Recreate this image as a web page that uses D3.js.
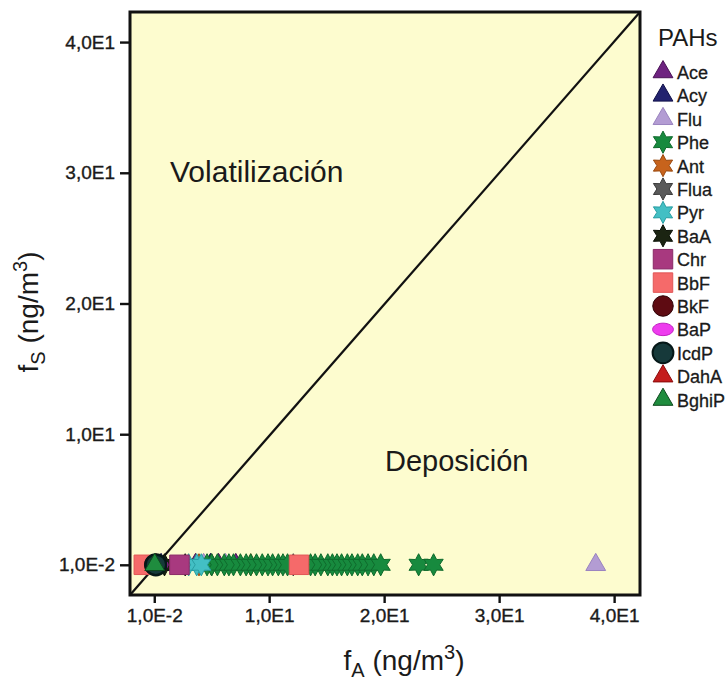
<!DOCTYPE html>
<html>
<head>
<meta charset="utf-8">
<script src="https://cdn.jsdelivr.net/npm/d3@7"></script>
<style>
  body { margin: 0; background: #fff; }
  text { font-family: "Liberation Sans", Arial, sans-serif; fill: #1a1a1a; }
</style>
</head>
<body>
<svg id="chart" width="728" height="689"></svg>
<script>
// PAH species (legend order) and their fA values (all fS = 1,0E-2)
const species = ["Ace", "Acy", "Flu", "Phe", "Ant", "Flua", "Pyr", "BaA", "Chr", "BbF", "BkF", "BaP", "IcdP", "DahA", "BghiP"];
const fsValue = 0.01;
const aceX = [3.6, 5.6, 7.1];
const acyX = [0.6, 4.9];
const fluX = [4.3, 6.2, 38.4];
const pheX = [4.6, 5.0, 5.5, 6.1, 6.5, 6.9, 7.5, 8.0, 8.4, 8.9, 9.4, 9.9, 10.3, 10.8, 11.2, 11.6,
  13.6, 14.0, 14.5, 15.1, 15.5, 15.9, 16.3, 16.8, 17.2, 17.7, 18.1, 18.6, 19.1, 19.7, 23.0, 24.3];
const antX = [3.9, 8.4];
const fluaX = [5.0, 12.1];
const pyrX = [3.0, 3.7, 4.1];
const baaX = [0.9, 2.7];
const chrX = [2.2];
const bbfX = [-0.9, 12.6];
const bkfX = [0.05];
const bapX = [0.3];
const icdpX = [0.15];
const dahaX = [0.15];
const bghipX = [0.05];
const xTicks = [0.01, 10, 20, 30, 40];
const xTickLabels = ["1,0E-2", "1,0E1", "2,0E1", "3,0E1", "4,0E1"];
const yTicks = [0.01, 10, 20, 30, 40];
const yTickLabels = ["1,0E-2", "1,0E1", "2,0E1", "3,0E1", "4,0E1"];

function chartEntryPoint() {
  const spec = {
    plot: { left: 130, top: 12, right: 640, bottom: 595 }
  };

  // six-armed asterisk-like star
  const asterisk = {
    draw(context, size) {
      const r = Math.sqrt(size) * 0.62, ri = r * 0.55;
      for (let i = 0; i < 12; i++) {
        const a = Math.PI / 6 * i - Math.PI / 2;
        const rr = i % 2 === 0 ? r : ri;
        const px = Math.cos(a) * rr, py = Math.sin(a) * rr;
        if (i === 0) context.moveTo(px, py); else context.lineTo(px, py);
      }
      context.closePath();
    }
  };
  // flat ellipse (BaP), made of four bezier quarters
  const ellipse = {
    draw(context, size) {
      const rx = Math.sqrt(size) * 0.62, ry = rx * 0.6, k = 0.5523;
      context.moveTo(rx, 0);
      context.bezierCurveTo(rx, ry * k, rx * k, ry, 0, ry);
      context.bezierCurveTo(-rx * k, ry, -rx, ry * k, -rx, 0);
      context.bezierCurveTo(-rx, -ry * k, -rx * k, -ry, 0, -ry);
      context.bezierCurveTo(rx * k, -ry, rx, -ry * k, rx, 0);
      context.closePath();
    }
  };

  const styles = {
    Ace:   { type: d3.symbolTriangle, fill: "#6e2380", stroke: "#4a1256", size: 170 },
    Acy:   { type: d3.symbolTriangle, fill: "#23236f", stroke: "#101048", size: 170 },
    Flu:   { type: d3.symbolTriangle, fill: "#b39cd3", stroke: "#9a84bf", size: 170 },
    Phe:   { type: asterisk, fill: "#178a3e", stroke: "#0f6a2c", size: 320 },
    Ant:   { type: asterisk, fill: "#c7631c", stroke: "#9a4a10", size: 320 },
    Flua:  { type: asterisk, fill: "#5a5a5a", stroke: "#3a3a3a", size: 320 },
    Pyr:   { type: asterisk, fill: "#43bfc4", stroke: "#2a9ea3", size: 320 },
    BaA:   { type: asterisk, fill: "#1b2412", stroke: "#0a1006", size: 320 },
    Chr:   { type: d3.symbolSquare, fill: "#a8397f", stroke: "#8a2a66", size: 380 },
    BbF:   { type: d3.symbolSquare, fill: "#f56a6a", stroke: "#e05555", size: 380 },
    BkF:   { type: d3.symbolCircle, fill: "#5e0b12", stroke: "#2e0206", size: 330 },
    BaP:   { type: ellipse, fill: "#ee3cee", stroke: "#c020c0", size: 280 },
    IcdP:  { type: d3.symbolCircle, fill: "#16393a", stroke: "#061818", size: 340 },
    DahA:  { type: d3.symbolTriangle, fill: "#c41d1d", stroke: "#8a0a0a", size: 170 },
    BghiP: { type: d3.symbolTriangle, fill: "#1f8c3e", stroke: "#0e4a1e", size: 170 }
  };
  const seriesX = {
    Ace: aceX, Acy: acyX, Flu: fluX, Phe: pheX, Ant: antX, Flua: fluaX, Pyr: pyrX, BaA: baaX,
    Chr: chrX, BbF: bbfX, BkF: bkfX, BaP: bapX, IcdP: icdpX, DahA: dahaX, BghiP: bghipX
  };

  const svg = d3.select("#chart");
  const p = spec.plot;

  const x = d3.scaleLinear().domain([-2.1, 42.25]).range([p.left, p.right]);
  const y = d3.scaleLinear().domain([-2.3, 42.3]).range([p.bottom, p.top]);

  // plot background
  svg.append("rect")
    .attr("x", p.left).attr("y", p.top)
    .attr("width", p.right - p.left).attr("height", p.bottom - p.top)
    .attr("fill", "#fdfccf");

  // 1:1 diagonal
  svg.append("line")
    .attr("x1", x(x.domain()[0])).attr("y1", y(y.domain()[0]))
    .attr("x2", x(x.domain()[1])).attr("y2", y(y.domain()[1]))
    .attr("stroke", "#111").attr("stroke-width", 2.2);

  // region labels
  svg.append("text").attr("x", 170).attr("y", 182)
    .style("font-size", "30px").text("Volatilización");
  svg.append("text").attr("x", 385).attr("y", 471)
    .style("font-size", "29px").text("Deposición");

  // points: small background species first, IcdP / BghiP on top
  const drawOrder = ["Ace", "Acy", "Flu", "Ant", "Flua", "BaA", "Phe", "Pyr", "BbF", "Chr", "BkF", "BaP", "DahA", "IcdP", "BghiP"];
  drawOrder.forEach((name) => {
    const st = styles[name];
    svg.append("g").selectAll("path")
      .data(seriesX[name])
      .join("path")
      .attr("transform", (d) => `translate(${x(d)},${y(fsValue)})`)
      .attr("d", d3.symbol().type(st.type).size(st.size))
      .attr("fill", st.fill)
      .attr("stroke", st.stroke)
      .attr("stroke-width", name === "IcdP" ? 2.5 : 1);
  });

  // axes
  const xAxis = svg.append("g")
    .attr("transform", `translate(0,${p.bottom})`)
    .call(d3.axisBottom(x).tickValues(xTicks).tickSize(8).tickPadding(6)
      .tickFormat((d, i) => xTickLabels[i]));
  const yAxis = svg.append("g")
    .attr("transform", `translate(${p.left},0)`)
    .call(d3.axisLeft(y).tickValues(yTicks).tickSize(10).tickPadding(5)
      .tickFormat((d, i) => yTickLabels[i]));
  [xAxis, yAxis].forEach((a) => {
    a.select(".domain").remove();
    a.selectAll("line").attr("stroke", "#111").attr("stroke-width", 2.4);
    a.selectAll("text").style("font-size", "19px")
      .style("font-family", "'Liberation Sans', Arial, sans-serif")
      .attr("fill", "#1a1a1a").attr("stroke", "#1a1a1a").attr("stroke-width", 0.35);
  });

  // frame
  svg.append("rect")
    .attr("x", p.left).attr("y", p.top)
    .attr("width", p.right - p.left).attr("height", p.bottom - p.top)
    .attr("fill", "none").attr("stroke", "#111").attr("stroke-width", 3);

  // axis titles
  const xt = svg.append("text").attr("x", 404).attr("y", 670)
    .attr("text-anchor", "middle").style("font-size", "28px");
  xt.append("tspan").text("f");
  xt.append("tspan").attr("dy", 7).style("font-size", "20px").text("A");
  xt.append("tspan").attr("dy", -7).text(" (ng/m");
  xt.append("tspan").attr("dy", -11).style("font-size", "20px").text("3");
  xt.append("tspan").attr("dy", 11).text(")");

  const yt = svg.append("text").attr("transform", "translate(38,312) rotate(-90)")
    .attr("text-anchor", "middle").style("font-size", "28px");
  yt.append("tspan").text("f");
  yt.append("tspan").attr("dy", 7).style("font-size", "20px").text("S");
  yt.append("tspan").attr("dy", -7).text(" (ng/m");
  yt.append("tspan").attr("dy", -11).style("font-size", "20px").text("3");
  yt.append("tspan").attr("dy", 11).text(")");

  // legend
  const legend = svg.append("g");
  legend.append("text").attr("x", 658).attr("y", 46).style("font-size", "24px").text("PAHs");
  const rows = legend.selectAll("g.item").data(species).join("g")
    .attr("class", "item")
    .attr("transform", (d, i) => `translate(0,${72 + i * 23.4})`);
  rows.append("path")
    .attr("transform", "translate(663,0)")
    .attr("d", (d) => d3.symbol().type(styles[d].type).size(styles[d].size * 1.0)())
    .attr("fill", (d) => styles[d].fill)
    .attr("stroke", (d) => styles[d].stroke)
    .attr("stroke-width", (d) => d === "IcdP" ? 2 : 1);
  rows.append("text").attr("x", 677).attr("y", 7)
    .style("font-size", "18px").attr("stroke", "#1a1a1a").attr("stroke-width", 0.3)
    .text((d) => d);
}

chartEntryPoint();
</script>
</body>
</html>
